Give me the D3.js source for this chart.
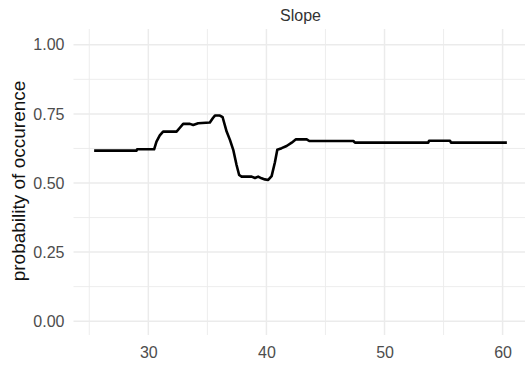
<!DOCTYPE html>
<html>
<head>
<meta charset="utf-8">
<script src="https://cdn.jsdelivr.net/npm/d3@7"></script>
<style>
	body { margin: 0; background: #fff; }
	svg { display: block; font-family: "Liberation Sans", Arial, sans-serif; }
</style>
</head>
<body>
<svg id="chart" width="525" height="368"></svg>
<script>
// slope values (x) and predicted probability
var slope = [25.41, 29.0, 29.05, 30.49, 30.69, 30.97, 31.25, 31.68, 32.39, 32.67, 32.95,
	33.52, 33.8, 34.22, 35.21, 35.47, 35.64, 36.06, 36.29, 36.63, 36.91, 37.19, 37.47,
	37.69, 37.9, 38.75, 39.03, 39.3, 39.59, 39.87, 40.15, 40.44, 40.72, 40.92, 41.29,
	41.71, 42.14, 42.5, 43.41, 43.63, 47.36, 47.5, 53.71, 53.77, 55.55, 55.63, 60.36];
var prob = [0.617, 0.617, 0.622, 0.622, 0.65, 0.672, 0.686, 0.686, 0.686, 0.700, 0.714,
	0.714, 0.71, 0.716, 0.719, 0.735, 0.744, 0.744, 0.738, 0.686, 0.656, 0.62, 0.565,
	0.529, 0.523, 0.523, 0.518, 0.523, 0.517, 0.513, 0.511, 0.525, 0.575, 0.62, 0.626,
	0.634, 0.646, 0.658, 0.658, 0.652, 0.652, 0.646, 0.646, 0.653, 0.653, 0.646, 0.646];

var xTicks = [30, 40, 50, 60];
var xMinor = [25, 35, 45, 55];
var yTicks = [0, 0.25, 0.5, 0.75, 1];
var yMinor = [0.125, 0.375, 0.625, 0.875];

var panelTitle = "Slope",
	yTitle = "probability of occurence";

var svg = d3.select("#chart");

// "top" is taken by window.top, so use other names
var pLeft = 73.5, pRight = 527.5, pTop = 31, pBottom = 335;

var data = slope.map(function(d, i) { return [d, prob[i]]; });

var ext = d3.extent(slope);
var pad = (ext[1] - ext[0]) * 0.05;
var x = d3.scaleLinear().domain([ext[0] - pad, ext[1] + pad]).range([pLeft, pRight]);
var y = d3.scaleLinear().domain([-0.05, 1.05]).range([pBottom, pTop]);

var grid = svg.append("g").attr("class", "grid");

// minor lines first, thinner
grid.selectAll(".vminor").data(xMinor).enter().append("line")
	.attr("x1", function(d) { return x(d); })
	.attr("x2", function(d) { return x(d); })
	.attr("y1", pTop - 2).attr("y2", pBottom)
	.attr("stroke", "#EBEBEB").attr("stroke-width", 0.9);
grid.selectAll(".hminor").data(yMinor).enter().append("line")
	.attr("y1", function(d) { return y(d); })
	.attr("y2", function(d) { return y(d); })
	.attr("x1", pLeft).attr("x2", pRight)
	.attr("stroke", "#EBEBEB").attr("stroke-width", 0.9);

grid.selectAll(".vmajor").data(xTicks).enter().append("line")
	.attr("x1", function(d) { return x(d); })
	.attr("x2", function(d) { return x(d); })
	.attr("y1", pTop - 2).attr("y2", pBottom)
	.attr("stroke", "#EBEBEB").attr("stroke-width", 1.5);
grid.selectAll(".hmajor").data(yTicks).enter().append("line")
	.attr("y1", function(d) { return y(d); })
	.attr("y2", function(d) { return y(d); })
	.attr("x1", pLeft).attr("x2", pRight)
	.attr("stroke", "#EBEBEB").attr("stroke-width", 1.5);

// axes: labels only, ggplot minimal has no axis lines
var xAxis = d3.axisBottom(x).tickValues(xTicks).tickSize(0).tickPadding(0)
	.tickFormat(d3.format("d"));
var gx = svg.append("g").attr("transform", "translate(0," + (pBottom + 12) + ")").call(xAxis);
gx.select(".domain").remove();
gx.selectAll("text").attr("fill", "#4D4D4D").style("font-size", "16px")
	.attr("dy", "0.71em");

var yAxis = d3.axisLeft(y).tickValues(yTicks).tickSize(0).tickPadding(0)
	.tickFormat(d3.format(".2f"));
var gy = svg.append("g").attr("transform", "translate(" + (pLeft - 9) + ",0)").call(yAxis);
gy.select(".domain").remove();
gy.selectAll("text").attr("fill", "#4D4D4D").style("font-size", "16px");

svg.append("text")
	.attr("x", (pLeft + pRight) / 2).attr("y", 21)
	.attr("text-anchor", "middle")
	.attr("fill", "#333")
	.style("font-size", "16px")
	.text(panelTitle);

svg.append("text")
	.attr("transform", "translate(25," + ((pTop + pBottom) / 2 - 2) + ") rotate(-90)")
	.attr("text-anchor", "middle")
	.attr("fill", "#111")
	.style("font-size", "19px")
	.text(yTitle);

var line = d3.line()
	.x(function(d) { return x(d[0]); })
	.y(function(d) { return y(d[1]); });

svg.append("path").datum(data)
	.attr("d", line)
	.attr("fill", "none")
	.attr("stroke", "#000")
	.attr("stroke-width", 2.6)
	.attr("stroke-linejoin", "round");
</script>
</body>
</html>
